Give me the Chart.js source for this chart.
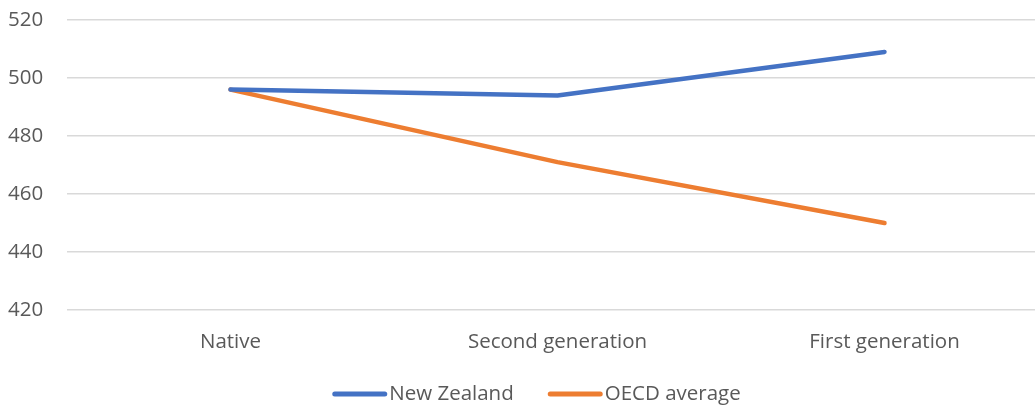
<!DOCTYPE html>
<html>
<head>
<meta charset="utf-8">
<script src="https://cdn.jsdelivr.net/npm/chart.js@4.4.1/dist/chart.umd.min.js"></script>
<style>
  html, body { margin: 0; padding: 0; background: #ffffff; overflow: hidden; }
  #wrap { position: relative; width: 1050px; height: 408px; }
</style>
</head>
<body>
<div id="wrap"><canvas id="chart"></canvas></div>
<script>
// Mean scores by immigrant background
const categories = ['Native', 'Second generation', 'First generation'];
const newZealand = [496, 494, 509];
const oecdAverage = [496, 471, 450];
const seriesNames = ['New Zealand', 'OECD average'];
const yMin = 420, yMax = 520, yStep = 20;

const FONT = '"Open Sans", "Noto Sans", sans-serif';
const TEXT = '#595959';
const BLUE = '#4472C4';
const ORANGE = '#ED7D31';

// Legend drawn as thick line samples followed by their labels
const lineLegend = {
  id: 'lineLegend',
  afterDraw(chart) {
    const ctx = chart.ctx;
    const sample = 55, gap = 2, space = 34, cy = 394, cx = 536.5;
    ctx.save();
    ctx.font = '20.5px ' + FONT;
    const items = chart.data.datasets.map(d => ({
      label: d.label, color: d.borderColor, w: ctx.measureText(d.label).width
    }));
    const total = items.reduce((s, it) => s + sample + gap + it.w, 0) + space * (items.length - 1);
    let x = cx - total / 2;
    ctx.textBaseline = 'middle';
    ctx.textAlign = 'left';
    items.forEach(it => {
      ctx.strokeStyle = it.color;
      ctx.lineWidth = 5;
      ctx.lineCap = 'round';
      ctx.beginPath();
      ctx.moveTo(x + 2.5, cy);
      ctx.lineTo(x + sample - 2.5, cy);
      ctx.stroke();
      x += sample + gap;
      ctx.fillStyle = TEXT;
      ctx.fillText(it.label, x, cy);
      x += it.w + space;
    });
    ctx.restore();
  }
};

const lineStyle = {
  borderWidth: 4.5,
  borderCapStyle: 'round',
  borderJoinStyle: 'round',
  pointRadius: 0,
  pointHoverRadius: 0,
  tension: 0,
  fill: false
};

new Chart(document.getElementById('chart'), {
  type: 'line',
  data: {
    labels: categories,
    datasets: [
      Object.assign({ label: seriesNames[0], data: newZealand, borderColor: BLUE, backgroundColor: BLUE }, lineStyle),
      Object.assign({ label: seriesNames[1], data: oecdAverage, borderColor: ORANGE, backgroundColor: ORANGE }, lineStyle)
    ]
  },
  options: {
    responsive: true,
    maintainAspectRatio: false,
    animation: false,
    layout: { padding: { top: 20, right: 2, bottom: 50, left: 8 } },
    plugins: {
      legend: { display: false },
      tooltip: { enabled: false }
    },
    scales: {
      x: {
        offset: true,
        grid: { display: false, drawTicks: false },
        border: { display: false },
        ticks: { color: TEXT, font: { family: FONT, size: 20.5 }, padding: 20, maxRotation: 0 },
        afterFit(scale) { scale.height = 48; }
      },
      y: {
        min: yMin,
        max: yMax,
        grid: { color: '#D9D9D9', lineWidth: 1.5, drawTicks: false },
        border: { display: false },
        ticks: { stepSize: yStep, color: TEXT, font: { family: FONT, size: 20.5 }, padding: 0, crossAlign: 'far' },
        afterFit(scale) { scale.width = 59; }
      }
    }
  },
  plugins: [lineLegend]
});
</script>
</body>
</html>
